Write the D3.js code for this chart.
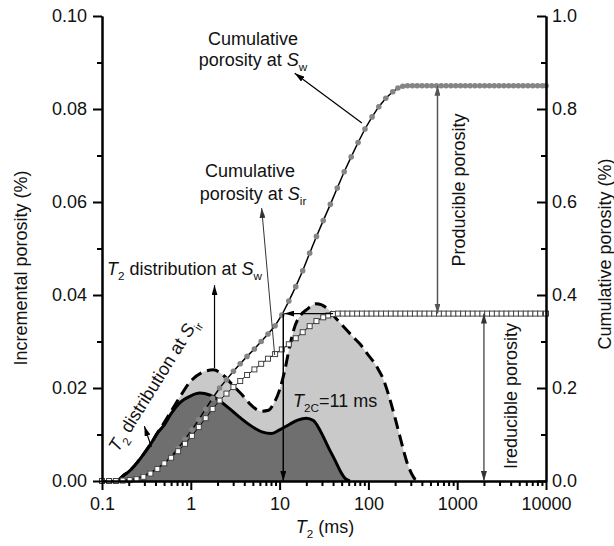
<!DOCTYPE html>
<html>
<head>
<meta charset="utf-8">
<script src="https://cdn.jsdelivr.net/npm/d3@7"></script>
<style>
  body { margin: 0; background: #fff; }
  svg { font-family: "Liberation Sans", Arial, sans-serif; }
</style>
</head>
<body>
<div id="chart"></div>
<script>
// T2 distributions (incremental porosity, left axis)
const sirT2 = [0.15, 0.17, 0.2, 0.25, 0.3, 0.36, 0.42, 0.5, 0.6, 0.75, 1.0, 1.26, 1.63, 2.0, 2.75, 3.5, 4.27, 5.3, 6.45, 8, 10, 13, 16, 20, 24, 28, 32, 36.6, 42, 48, 55, 62];
const sirInc = [0, 0.001, 0.002, 0.004, 0.006, 0.0082, 0.0103, 0.012, 0.0145, 0.0168, 0.0183, 0.0189, 0.0185, 0.0176, 0.0155, 0.0138, 0.0125, 0.0113, 0.0105, 0.0102, 0.011, 0.0122, 0.0131, 0.0135, 0.013, 0.0112, 0.009, 0.0067, 0.0045, 0.0022, 0.0005, 0];

const swT2 = [0.15, 0.17, 0.2, 0.25, 0.3, 0.36, 0.42, 0.5, 0.6, 0.75, 1.0, 1.3, 1.8, 2.3, 3.0, 3.8, 4.8, 6.2, 7.5, 8.5, 10, 11.5, 13, 15, 17.5, 20, 26, 34, 44, 52, 67, 80, 96, 125, 150, 175, 200, 227, 272, 318, 345];
const swInc = [0, 0.001, 0.002, 0.004, 0.006, 0.0082, 0.0103, 0.0125, 0.015, 0.018, 0.0215, 0.0232, 0.0239, 0.0228, 0.0205, 0.0185, 0.0163, 0.015, 0.0152, 0.0165, 0.0196, 0.024, 0.029, 0.0335, 0.0358, 0.0368, 0.0381, 0.0372, 0.0348, 0.0333, 0.031, 0.0295, 0.0275, 0.0245, 0.0215, 0.0175, 0.0135, 0.0095, 0.004, 0.001, 0];

// cumulative porosity (right axis)
const swCumT2 = [0.1, 0.12, 0.143, 0.171, 0.205, 0.245, 0.293, 0.351, 0.42, 0.503, 0.6, 0.72, 0.86, 1.03, 1.23, 1.47, 1.76, 2.11, 2.52, 3.02, 3.6, 4.3, 5.2, 6.2, 7.4, 8.9, 10.6, 12.7, 15.2, 18.2, 21.8, 26, 31, 37.3, 44.6, 53.4, 64, 76.5, 91.5, 110, 131, 157, 188, 215, 244, 276, 313, 354, 401, 455, 515, 584, 661, 749, 849, 962, 1090, 1235, 1399, 1585, 1796, 2035, 2306, 2612, 2960, 3353, 3799, 4305, 4877, 5526, 6261, 7093, 8037, 9106, 10000];
const swCum = [0, 0, 0, 0.001, 0.003, 0.006, 0.011, 0.018, 0.027, 0.038, 0.052, 0.07, 0.09, 0.11, 0.132, 0.155, 0.178, 0.2, 0.218, 0.236, 0.252, 0.268, 0.284, 0.3, 0.316, 0.334, 0.357, 0.387, 0.418, 0.452, 0.49, 0.526, 0.56, 0.595, 0.63, 0.665, 0.697, 0.728, 0.757, 0.783, 0.805, 0.823, 0.837, 0.845, 0.849,
  0.85, 0.85, 0.85, 0.85, 0.85, 0.85, 0.85, 0.85, 0.85, 0.85, 0.85, 0.85, 0.85, 0.85, 0.85, 0.85, 0.85, 0.85, 0.85, 0.85, 0.85, 0.85, 0.85, 0.85, 0.85, 0.85, 0.85, 0.85, 0.85, 0.85];

const sirCumT2 = [0.1, 0.12, 0.143, 0.171, 0.205, 0.245, 0.293, 0.351, 0.42, 0.503, 0.6, 0.72, 0.86, 1.03, 1.23, 1.47, 1.76, 2.11, 2.52, 3.02, 3.6, 4.3, 5.2, 6.2, 7.4, 8.9, 10.6, 12.7, 15.2, 18.2, 21.8, 26, 31, 35.3, 40, 45.3, 51.4, 58.2, 66, 74.7, 84.6, 95.9, 108.6, 123, 139.4, 158, 179, 202.8, 229.8, 260.4, 295, 334, 379, 429, 486, 551, 624, 707, 801, 908, 1029, 1166, 1321, 1497, 1696, 1921, 2177, 2466, 2794, 3166, 3587, 4064, 4605, 5217, 5911, 6697, 7588, 8597, 10000];
const sirCum = [0, 0, 0, 0.001, 0.002, 0.004, 0.009, 0.016, 0.026, 0.038, 0.05, 0.064, 0.08, 0.097, 0.116, 0.135, 0.155, 0.173, 0.188, 0.202, 0.215, 0.228, 0.24, 0.252, 0.263, 0.273, 0.283, 0.294, 0.307, 0.32, 0.333, 0.344, 0.352, 0.356, 0.359,
  0.36, 0.36, 0.36, 0.36, 0.36, 0.36, 0.36, 0.36, 0.36, 0.36, 0.36, 0.36, 0.36, 0.36, 0.36, 0.36, 0.36, 0.36, 0.36, 0.36, 0.36, 0.36, 0.36, 0.36, 0.36, 0.36, 0.36, 0.36, 0.36, 0.36, 0.36, 0.36, 0.36, 0.36, 0.36, 0.36, 0.36, 0.36, 0.36, 0.36, 0.36, 0.36, 0.36, 0.36];

// ticks
const xTicks = [0.1, 1, 10, 100, 1000, 10000];
const yLeftTicks = [0, 0.02, 0.04, 0.06, 0.08, 0.1];
const yLeftMinor = [0.01, 0.03, 0.05, 0.07, 0.09];
const yRightTicks = [0, 0.2, 0.4, 0.6, 0.8, 1.0];
const yRightMinor = [0.1, 0.3, 0.5, 0.7, 0.9];

const t2c = 11;
const producibleAt = 600;
const irreducibleAt = 2000;

const width = 614;
const height = 546;
const margin = { top: 16, right: 68, bottom: 65, left: 102 };

const svg = d3
  .select("#chart")
  .append("svg")
  .attr("width", width)
  .attr("height", height);

const x = d3
  .scaleLog()
  .domain([0.1, 10000])
  .range([margin.left, width - margin.right]);
const yL = d3
  .scaleLinear()
  .domain([0, 0.1])
  .range([height - margin.bottom, margin.top]);
const yR = d3
  .scaleLinear()
  .domain([0, 1])
  .range([height - margin.bottom, margin.top]);

// arrow head
svg
  .append("defs")
  .append("marker")
  .attr("id", "arrow")
  .attr("viewBox", "0 0 10 6")
  .attr("refX", 10)
  .attr("refY", 3)
  .attr("markerWidth", 10)
  .attr("markerHeight", 6)
  .attr("markerUnits", "userSpaceOnUse")
  .attr("orient", "auto-start-reverse")
  .append("path")
  .attr("d", "M0,0L10,3L0,6Z")
  .attr("fill", "context-stroke");

const zip = (xs, ys) => xs.map((d, i) => [d, ys[i]]);

// distributions
const area = (yScale) =>
  d3
    .area()
    .x((d) => x(d[0]))
    .y0(yScale(0))
    .y1((d) => yScale(d[1]))
    .curve(d3.curveMonotoneX);
const line = (yScale, curve) =>
  d3
    .line()
    .x((d) => x(d[0]))
    .y((d) => yScale(d[1]))
    .curve(curve);

const swData = zip(swT2, swInc);
const sirData = zip(sirT2, sirInc);

svg.append("path").attr("d", area(yL)(swData)).attr("fill", "#c9c9c9");
svg.append("path").attr("d", area(yL)(sirData)).attr("fill", "#6f6f6f");

svg
  .append("path")
  .attr("d", line(yL, d3.curveMonotoneX)(swData))
  .attr("fill", "none")
  .attr("stroke", "#000")
  .attr("stroke-width", 3)
  .attr("stroke-dasharray", "12,6");
svg
  .append("path")
  .attr("d", line(yL, d3.curveMonotoneX)(sirData))
  .attr("fill", "none")
  .attr("stroke", "#000")
  .attr("stroke-width", 3);

// cumulative curves
const swCumData = zip(swCumT2, swCum);
const sirCumData = zip(sirCumT2, sirCum);

svg
  .append("path")
  .attr("d", line(yR, d3.curveLinear)(swCumData))
  .attr("fill", "none")
  .attr("stroke", "#000")
  .attr("stroke-width", 1.5);
svg
  .append("g")
  .selectAll("circle")
  .data(swCumData)
  .enter()
  .append("circle")
  .attr("cx", (d) => x(d[0]))
  .attr("cy", (d) => yR(d[1]))
  .attr("r", 2.8)
  .attr("fill", "#858585");

svg
  .append("path")
  .attr("d", line(yR, d3.curveLinear)(sirCumData))
  .attr("fill", "none")
  .attr("stroke", "#000")
  .attr("stroke-width", 1);
svg
  .append("g")
  .selectAll("rect")
  .data(sirCumData)
  .enter()
  .append("rect")
  .attr("x", (d) => x(d[0]) - 2.5)
  .attr("y", (d) => yR(d[1]) - 2.5)
  .attr("width", 5)
  .attr("height", 5)
  .attr("fill", "#fff")
  .attr("stroke", "#444")
  .attr("stroke-width", 1);

// axes
const styleAxis = (g) => {
  g.selectAll(".domain").attr("stroke-width", 2);
  g.selectAll(".tick line").attr("stroke-width", 2);
  g.selectAll("text").attr("font-size", 18).attr("fill", "#111");
};

svg
  .append("g")
  .attr("transform", `translate(${margin.left},0)`)
  .call(
    d3
      .axisLeft(yL)
      .tickValues(yLeftTicks)
      .tickFormat(d3.format(".2f"))
      .tickSize(9)
      .tickSizeOuter(0)
      .tickPadding(6)
  )
  .call(styleAxis);
svg
  .append("g")
  .attr("transform", `translate(${margin.left},0)`)
  .call(d3.axisLeft(yL).tickValues(yLeftMinor).tickFormat("").tickSize(5).tickSizeOuter(0))
  .call(styleAxis);

svg
  .append("g")
  .attr("transform", `translate(${width - margin.right},0)`)
  .call(
    d3
      .axisRight(yR)
      .tickValues(yRightTicks)
      .tickFormat(d3.format(".1f"))
      .tickSizeInner(-9)
      .tickSizeOuter(0)
      .tickPadding(6)
  )
  .call(styleAxis);
svg
  .append("g")
  .attr("transform", `translate(${width - margin.right},0)`)
  .call(d3.axisRight(yR).tickValues(yRightMinor).tickFormat("").tickSizeInner(-5).tickSizeOuter(0))
  .call(styleAxis);

svg
  .append("g")
  .attr("transform", `translate(0,${height - margin.bottom})`)
  .call(
    d3
      .axisBottom(x)
      .tickValues(xTicks)
      .tickFormat(d3.format("~g"))
      .tickSize(9)
      .tickSizeOuter(0)
      .tickPadding(7)
  )
  .call(styleAxis);
svg
  .append("g")
  .attr("transform", `translate(0,${height - margin.bottom})`)
  .call(
    d3
      .axisBottom(x)
      .tickValues(x.ticks().filter((t) => !xTicks.includes(t)))
      .tickFormat("")
      .tickSize(5)
      .tickSizeOuter(0)
  )
  .call(styleAxis);

// rich text helper: parts = [[text, style]] style: "i" italic, "s" subscript
function richText(g, parts, size) {
  const t = g.append("text").attr("font-size", size).attr("fill", "#111");
  let sub = false;
  parts.forEach(([s, st]) => {
    const ts = t.append("tspan").text(s);
    if (st === "i") ts.attr("font-style", "italic");
    if (st === "s") {
      ts.attr("font-size", size * 0.65).attr("dy", size * 0.3);
      sub = true;
    } else if (sub) {
      ts.attr("dy", -size * 0.3);
      sub = false;
    }
  });
  return t;
}

// axis titles
svg
  .append("text")
  .attr("transform", "translate(27,268) rotate(-90)")
  .attr("text-anchor", "middle")
  .attr("font-size", 18)
  .attr("fill", "#111")
  .text("Incremental porosity (%)");
svg
  .append("text")
  .attr("transform", "translate(611,254) rotate(-90)")
  .attr("text-anchor", "middle")
  .attr("font-size", 18)
  .attr("fill", "#111")
  .text("Cumulative porosity (%)");
richText(svg.append("g").attr("transform", "translate(325,533)"), [["T", "i"], ["2", "s"], [" (ms)", ""]], 18)
  .attr("text-anchor", "middle");

// annotations
const arrow = (x1, y1, x2, y2, opts = {}) =>
  svg
    .append("line")
    .attr("x1", x1)
    .attr("y1", y1)
    .attr("x2", x2)
    .attr("y2", y2)
    .attr("stroke", opts.color || "#000")
    .attr("stroke-width", opts.w || 1.2)
    .attr("marker-end", "url(#arrow)")
    .attr("marker-start", opts.both ? "url(#arrow)" : null);

// T2 cutoff
arrow(x(t2c), yR(0.36), x(t2c), yR(0), { w: 1.5 });
arrow(x(40), yR(0.36), x(t2c) + 1, yR(0.36), { w: 1.2 });

// producible / irreducible
arrow(x(producibleAt), yR(0.36), x(producibleAt), yR(0.85), { both: true, color: "#555", w: 1.5 });
arrow(x(irreducibleAt), yR(0), x(irreducibleAt), yR(0.36), { both: true, color: "#333", w: 1.2 });

svg
  .append("text")
  .attr("transform", `translate(${x(producibleAt) + 28},190) rotate(-90)`)
  .attr("text-anchor", "middle")
  .attr("font-size", 18)
  .attr("fill", "#111")
  .text("Producible porosity");
svg
  .append("text")
  .attr("transform", `translate(${x(irreducibleAt) + 33},396) rotate(-90)`)
  .attr("text-anchor", "middle")
  .attr("font-size", 18)
  .attr("fill", "#111")
  .text("Ireducible porosity");

// cumulative labels
arrow(x(84.5), yL(0.077), x(14.8), yL(0.0877));
svg.append("text").attr("x", 253).attr("y", 45).attr("text-anchor", "middle")
  .attr("font-size", 18).attr("fill", "#111").text("Cumulative");
richText(svg.append("g").attr("transform", "translate(253,66)"), [["porosity at ", ""], ["S", "i"], ["w", "s"]], 18)
  .attr("text-anchor", "middle");

arrow(x(8.8), yL(0.0271), x(6.28), yL(0.0587), { color: "#333", w: 1 });
svg.append("text").attr("x", 250).attr("y", 177).attr("text-anchor", "middle")
  .attr("font-size", 18).attr("fill", "#111").text("Cumulative");
richText(svg.append("g").attr("transform", "translate(253,200)"), [["porosity at ", ""], ["S", "i"], ["ir", "s"]], 18)
  .attr("text-anchor", "middle");

// distribution labels
arrow(x(1.85), yL(0.0243), x(1.85), yL(0.0421));
richText(svg.append("g").attr("transform", "translate(107,275)"),
  [["T", "i"], ["2", "s"], [" distribution at ", ""], ["S", "i"], ["w", "s"]], 18);

arrow(x(0.36), yL(0.0073), x(0.3), yL(0.0118));
richText(svg.append("g").attr("transform", "translate(118,453) rotate(-58)"),
  [["T", "i"], ["2", "s"], [" distribution at ", ""], ["S", "i"], ["ir", "s"]], 18);

richText(svg.append("g").attr("transform", "translate(293,407)"),
  [["T", "i"], ["2C", "s"], ["=11 ms", ""]], 18);
</script>
</body>
</html>
